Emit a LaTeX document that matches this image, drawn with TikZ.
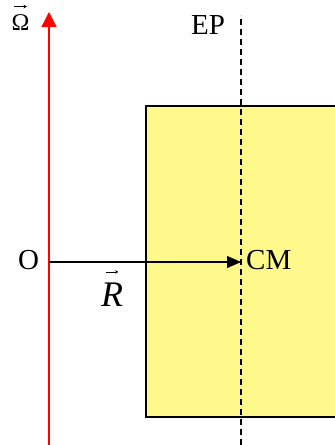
\documentclass[tikz,border=0pt]{standalone}
\usepackage{fontspec}
\setmainfont{Liberation Serif}
\usetikzlibrary{arrows.meta}
\newcommand{\smallarrow}{\tikz[baseline=0pt]{\path[use as bounding box] (0pt,-1.5pt) rectangle (13pt,1.5pt); \draw[line width=0.6pt, -{Stealth[length=3.5pt,width=3.5pt]}] (0pt,0pt) -- (13pt,0pt);}}
\newcommand{\arrowover}[2]{\leavevmode\vbox{\offinterlineskip\halign{\hfil##\hfil\cr\smallarrow\cr\noalign{\kern #2}#1\cr}}}
\begin{document}
\begin{tikzpicture}[x=1pt,y=-1pt,
  lbl/.style={font=\fontsize{29}{32}\selectfont, inner sep=0pt},
  body/.style={draw=black, line width=1.2pt, fill=yellow!45},
  axis/.style={draw=red, line width=1.3pt, -{Triangle[length=15pt,width=15pt]}},
  vec/.style={draw=black, line width=1.3pt, -{Triangle[length=14pt,width=12pt]}},
  ep/.style={draw=black, line width=1.2pt, dash pattern=on 6pt off 4pt}]
\useasboundingbox (0,0) rectangle (335,445);
\fill[body] (146,106) -- (146,417) -- (340,417);
\draw[body] (340,106) -- (146,106) -- (146,417) -- (340,417);
\coordinate (axbot) at (49,445);
\coordinate (axtop) at (49,12);
\draw[axis] (axbot) -- (axtop);
\coordinate (epbot) at (241,445);
\coordinate (eptop) at (241,15);
\draw[ep] (epbot) -- (eptop);
\coordinate (O) at (49,262);
\coordinate (CM) at (241,262);
\draw[vec] (O) -- (CM);
\node[lbl] (Olbl) at (28.5,260) {O};
\node[lbl, anchor=west] (CMlbl) at (246,260) {CM};
\node[lbl] (EPlbl) at (208,25.5) {EP};
\node[font=\fontsize{24}{26}\selectfont, inner sep=0pt, anchor=base] (Om) at (20.5,30) {\arrowover{Ω}{6pt}};
\node[font=\fontsize{36}{38}\selectfont, inner sep=0pt, anchor=base] (Rlbl) at (112,306) {\arrowover{\itshape R}{9pt}};
\end{tikzpicture}
\end{document}
